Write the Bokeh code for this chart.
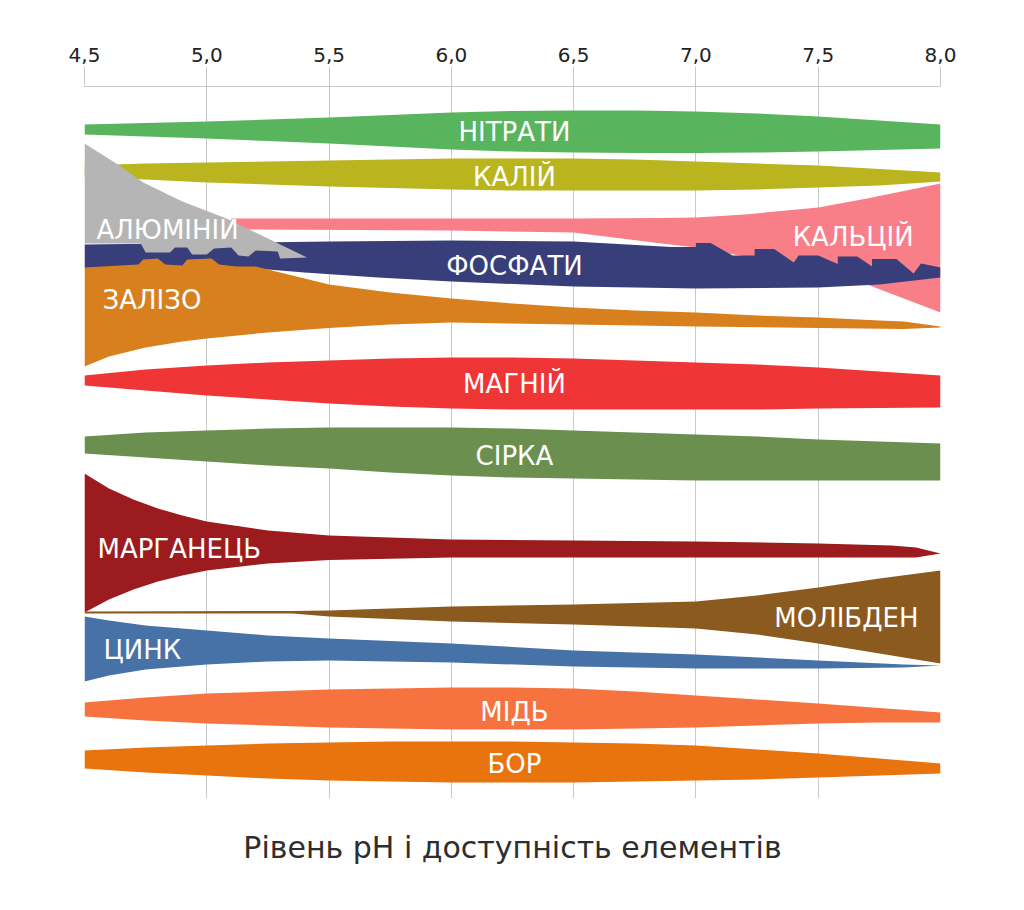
from bokeh.plotting import figure
from bokeh.models import Range1d, FixedTicker, LinearAxis
from bokeh.core.properties import value
from bokeh.embed import file_html
from bokeh.resources import INLINE

# ---------------- data ----------------
ph_ticks = [4.5, 5.0, 5.5, 6.0, 6.5, 7.0, 7.5, 8.0]
tick_labels = ["4,5", "5,0", "5,5", "6,0", "6,5", "7,0", "7,5", "8,0"]
title_text = "Рівень pH і доступність елементів"

# availability bands: upper / lower edge in chart units (0 = top, grows downward)
ph = [4.5, 4.75, 5.0, 5.25, 5.5, 5.75, 6.0, 6.25, 6.5, 6.75, 7.0, 7.25, 7.5, 7.75, 8.0]

nitrate_top = [124, 122.5, 121, 119, 117, 114.5, 112, 110.5, 110, 110, 111, 113, 116, 120, 124]
nitrate_bot = [134, 136, 138, 140.5, 143, 146, 149, 151, 152, 152.5, 152.5, 152, 151, 149.5, 148]

potassium_top = [165, 163, 162, 161, 160, 159, 158, 158, 158, 159, 161, 163, 165, 168.5, 172]
potassium_bot = [176, 179, 182, 184, 186, 187.5, 189, 190, 190, 190, 190, 189, 187, 185, 181]

magnesium_top = [375, 369, 365, 362, 360, 358, 357, 357, 358, 360, 362, 364, 367, 371, 375]
magnesium_bot = [385, 390, 395, 399, 403, 406, 408, 409, 409, 409, 409, 409, 408, 407.5, 407]

sulfur_top = [436, 432, 430, 428, 427, 427, 427, 428, 430, 432, 434, 436, 439, 441, 443]
sulfur_bot = [453, 457, 461, 465, 468, 472, 475, 477, 478, 479, 480, 480, 480, 480, 480]

copper_top = [702, 697, 693, 691, 689, 688, 687, 687, 688, 691, 695, 699, 703, 707.5, 712]
copper_bot = [716, 720, 723, 725, 727, 728, 729, 729, 729, 728, 727, 725, 723, 722, 722]

boron_top = [750, 747, 745, 743, 742, 741, 741, 741, 742, 743, 745, 749, 753, 758, 763]
boron_bot = [768, 772, 775, 778, 780, 781, 782, 782, 782, 781, 780, 779, 777, 775, 773]

manganese_ph = [4.5, 4.6, 4.7, 4.8, 4.9, 5.0, 5.25, 5.5, 6.0, 6.5, 7.0, 7.5, 7.8, 7.9, 8.0]
manganese_top = [473, 488, 499, 508, 515, 521, 530, 535, 539, 540, 541, 543, 545, 547, 553]
manganese_bot = [612, 599, 589, 581, 575, 570, 563, 559.5, 557, 557, 557, 557, 557, 557, 553]

zinc_ph = [4.5, 4.6, 4.75, 5.0, 5.25, 5.5, 6.0, 6.5, 7.0, 7.5, 7.85, 8.0]
zinc_top = [616, 620, 625, 630, 635, 638, 643, 650, 654, 660, 664, 665]
zinc_bot = [681, 675, 669, 664, 661, 660, 662, 666, 668, 668, 667, 665]

molybdenum_ph = [4.5, 5.35, 5.5, 6.0, 6.5, 7.0, 7.25, 7.5, 7.75, 8.0]
molybdenum_top = [611, 610.5, 610, 606, 604, 601, 595, 587, 578, 570]
molybdenum_bot = [613, 613, 616, 621, 624, 628, 634, 643, 653, 663]

calcium_ph = [5.1, 6.0, 6.5, 6.86, 7.0, 7.2, 7.5, 7.7, 8.0]
calcium_top = [218, 218, 218, 217.5, 217, 214, 207, 198, 183]
calcium_bot = [229, 230, 232, 243, 247, 256, 269, 284, 312]

phosphate_top_ph = [4.5, 5.5, 6.0, 6.5, 6.9, 7.0, 7.0, 7.06, 7.15, 7.24, 7.24, 7.32, 7.40, 7.42,
                    7.50, 7.58, 7.58, 7.66, 7.72, 7.72, 7.82, 7.89, 7.92, 8.0]
phosphate_top = [244, 241, 240, 241, 246.5, 246.5, 242.5, 242.5, 255, 255, 248.5, 248.5, 262, 255,
                 255, 263.5, 256, 256, 266, 258.5, 258.5, 273, 263, 267]
phosphate_bot_ph = [4.5, 5.2, 5.4, 5.7, 6.0, 6.5, 7.0, 7.5, 7.75, 8.0]
phosphate_bot = [268, 268, 272, 277, 281, 286, 288, 287, 284, 277]

aluminium_top_ph = [4.5, 4.63, 4.74, 4.9, 5.08, 5.25, 5.41]
aluminium_top = [143, 163, 182, 201, 218, 238, 257]
aluminium_bot_ph = [4.5, 4.73, 4.75, 4.85, 4.87, 4.92, 4.94, 5.0, 5.03, 5.1, 5.13, 5.17, 5.2, 5.29, 5.3, 5.41]
aluminium_bot = [243, 243, 252, 252, 247, 247, 254, 254, 248, 247, 255, 256, 250, 251, 258, 257]

iron_top_ph = [4.5, 4.72, 4.74, 4.8, 4.83, 4.9, 4.92, 5.02, 5.05, 5.12, 5.2, 5.3, 5.4, 5.5, 5.75,
               6.0, 6.25, 6.5, 6.75, 7.0, 7.25, 7.5, 7.75, 7.85, 8.0]
iron_top = [267, 264, 259, 258, 264, 265, 259, 258, 264, 266, 266, 272, 278, 284, 292,
            298, 303, 307, 310, 312, 315, 317, 320, 321, 326]
iron_bot_ph = [4.5, 4.6, 4.75, 4.9, 5.0, 5.25, 5.5, 5.75, 6.0, 6.5, 7.0, 7.5, 7.85, 8.0]
iron_bot = [366, 356, 347, 341, 338, 332, 327.5, 324, 322, 324, 326, 327.5, 328.5, 327]

label_names = ["НІТРАТИ", "КАЛІЙ", "АЛЮМІНІЙ", "КАЛЬЦІЙ", "ФОСФАТИ", "ЗАЛІЗО", "МАГНІЙ",
               "СІРКА", "МАРГАНЕЦЬ", "МОЛІБДЕН", "ЦИНК", "МІДЬ", "БОР"]
label_ph = [6.258, 6.258, 4.549, 7.89, 6.258, 4.574, 6.258, 6.258, 4.553, 7.91, 4.578, 6.258, 6.258]
label_y = [131, 176, 229, 236, 265, 299, 383, 455, 548, 617, 649, 711, 763]
label_align = ["center", "center", "left", "right", "center", "left", "center", "center",
               "left", "right", "left", "center", "center"]

# ---------------- figure ----------------
p = figure(width=1008, height=888, output_backend="svg", toolbar_location=None,
           x_range=Range1d(4.5, 8.0), y_range=Range1d(798, 86),
           x_axis_location="above", y_axis_location=None,
           min_border_left=84, min_border_right=68, min_border_top=86, min_border_bottom=90)
p.outline_line_color = None
p.background_fill_color = "white"
p.border_fill_color = "white"

grid_col = "#c9c9c9"
ax = p.xaxis[0]
ax.ticker = FixedTicker(ticks=ph_ticks)
ax.major_label_overrides = dict(zip(ph_ticks, tick_labels))
ax.axis_line_color = grid_col
ax.major_tick_line_color = grid_col
ax.major_tick_out = 20
ax.major_tick_in = 0
ax.minor_tick_line_color = None
ax.major_label_standoff = 5
ax.major_label_text_font = "DejaVu Sans"
ax.major_label_text_font_size = "20px"
ax.major_label_text_color = "#222222"

p.xgrid.ticker = FixedTicker(ticks=ph_ticks)
p.xgrid.grid_line_color = grid_col
p.ygrid.visible = False

bottom_axis = LinearAxis(ticker=FixedTicker(ticks=[]), axis_label=title_text,
                         axis_line_color=None, major_tick_line_color=None,
                         minor_tick_line_color=None, major_label_text_font_size="0px",
                         axis_label_standoff=31, axis_label_text_font="DejaVu Sans",
                         axis_label_text_font_size="30px", axis_label_text_font_style="normal",
                         axis_label_text_color="#2e2e2e")
p.add_layout(bottom_axis, "below")


def band(x, top, bot, color):
    p.varea(x=x, y1=top, y2=bot, fill_color=color)


def shape(tx, ty, bx, by, color):
    p.patch(x=list(tx) + list(bx)[::-1], y=list(ty) + list(by)[::-1],
            fill_color=color, line_color=None)


band(ph, nitrate_top, nitrate_bot, "#58B55E")
band(ph, potassium_top, potassium_bot, "#BAB41E")
band(calcium_ph, calcium_top, calcium_bot, "#F87E87")
shape(phosphate_top_ph, phosphate_top, phosphate_bot_ph, phosphate_bot, "#383E7A")
shape(aluminium_top_ph, aluminium_top, aluminium_bot_ph, aluminium_bot, "#B5B5B5")
shape(iron_top_ph, iron_top, iron_bot_ph, iron_bot, "#D8801E")
band(ph, magnesium_top, magnesium_bot, "#EF3535")
band(ph, sulfur_top, sulfur_bot, "#6A8F4F")
band(manganese_ph, manganese_top, manganese_bot, "#9B1B1E")
band(zinc_ph, zinc_top, zinc_bot, "#4772A8")
band(molybdenum_ph, molybdenum_top, molybdenum_bot, "#8B5A1E")
band(ph, copper_top, copper_bot, "#F6733F")
band(ph, boron_top, boron_bot, "#E9730D")

for name, x, y, al in zip(label_names, label_ph, label_y, label_align):
    p.text(x=[x], y=[y], text=[name], text_align=al, text_baseline="middle",
           text_color="white", text_font=value("DejaVu Sans"), text_font_size="26px")

open("out.html", "w").write(file_html(p, INLINE))
